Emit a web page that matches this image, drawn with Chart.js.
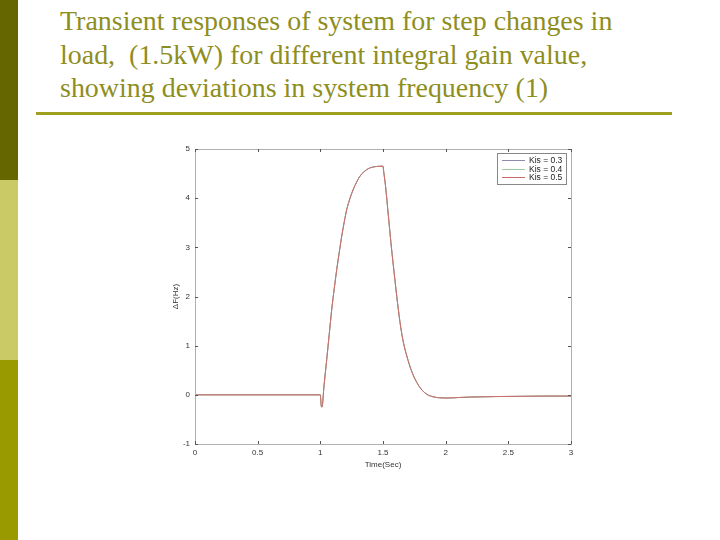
<!DOCTYPE html>
<html>
<head>
<meta charset="utf-8">
<script src="https://cdn.jsdelivr.net/npm/chart.js@4"></script>
<style>
  html, body { margin:0; padding:0; background:#ffffff; }
  #page { position:relative; width:720px; height:540px; overflow:hidden; background:#fff; }
  .bar { position:absolute; left:0; width:18px; }
  #title { position:absolute; left:60px; top:5px; width:620px; font-family:"Liberation Serif","DejaVu Serif",serif; font-size:27px; line-height:33.5px; color:#8e8e1e; transform:scaleX(1.035); transform-origin:left top; white-space:nowrap; }
  #rule { position:absolute; left:36px; top:112px; width:636px; height:3px; background:#a0a020; }
  #wrap { position:absolute; left:0; top:0; width:720px; height:540px; }
</style>
</head>
<body>
<div id="page">
  <div class="bar" style="top:0;height:180px;background:#666600;"></div>
  <div class="bar" style="top:180px;height:180px;background:#caca66;"></div>
  <div class="bar" style="top:360px;height:180px;background:#999900;"></div>
  <div id="title">Transient responses of system for step changes in<br>load,&nbsp; (1.5kW) for different integral gain value,<br>showing deviations in system frequency (1)</div>
  <div id="rule"></div>
  <div id="wrap"><canvas id="c" width="720" height="540"></canvas></div>
</div>
<script>
// ---- data ----
const timeSec = [0, 1.0, 1.006, 1.013, 1.03, 1.051, 1.071, 1.091, 1.111, 1.131, 1.151, 1.171, 1.191, 1.211, 1.237, 1.263, 1.29, 1.317, 1.35, 1.383, 1.415, 1.45, 1.5, 1.505, 1.52, 1.543, 1.563, 1.583, 1.61, 1.636, 1.66, 1.69, 1.73, 1.77, 1.81, 1.85, 1.9, 1.95, 2.0, 2.1, 2.2, 2.4, 2.6, 2.8, 3.0];
const dfKis03 = [0, 0, -0.2, -0.25, 0.2, 0.72, 1.23, 1.74, 2.16, 2.55, 2.9, 3.23, 3.52, 3.77, 4.0, 4.18, 4.33, 4.45, 4.54, 4.6, 4.63, 4.645, 4.65, 4.55, 4.25, 3.64, 3.1, 2.62, 2.0, 1.47, 1.1, 0.79, 0.47, 0.25, 0.1, 0.01, -0.04, -0.06, -0.065, -0.055, -0.045, -0.035, -0.03, -0.025, -0.025];
const dfKis04 = [0, 0, -0.2, -0.25, 0.2, 0.72, 1.23, 1.74, 2.16, 2.55, 2.9, 3.23, 3.52, 3.77, 4.0, 4.18, 4.33, 4.45, 4.54, 4.6, 4.63, 4.645, 4.65, 4.55, 4.25, 3.64, 3.1, 2.62, 2.0, 1.47, 1.1, 0.79, 0.47, 0.25, 0.1, 0.01, -0.04, -0.06, -0.065, -0.055, -0.045, -0.035, -0.03, -0.025, -0.025];
const dfKis05 = [0, 0, -0.2, -0.25, 0.2, 0.72, 1.23, 1.74, 2.16, 2.55, 2.9, 3.23, 3.52, 3.77, 4.0, 4.18, 4.33, 4.45, 4.54, 4.6, 4.63, 4.645, 4.65, 4.55, 4.25, 3.64, 3.1, 2.62, 2.0, 1.47, 1.1, 0.79, 0.47, 0.25, 0.1, 0.01, -0.04, -0.06, -0.065, -0.055, -0.045, -0.035, -0.03, -0.025, -0.025];
const seriesLabels = ['Kis = 0.3', 'Kis = 0.4', 'Kis = 0.5'];
const xTicks = [0, 0.5, 1, 1.5, 2, 2.5, 3];
const yTicks = [-1, 0, 1, 2, 3, 4, 5];
const xTitle = 'Time(Sec)';
const yTitle = '\u0394F(Hz)';

const seriesColors = ['#8c8cb0', '#9ccc9c', '#cc6a6a'];
const seriesOrder = [3, 2, 1];
const pts = arr => timeSec.map((t, i) => ({x: t, y: arr[i]}));
const FONT = '"Liberation Sans", Arial, sans-serif';

const frameTicks = {
  id: 'frameTicks',
  afterDatasetsDraw(chart) {
    const {ctx, chartArea: a, scales} = chart;
    ctx.save();
    ctx.strokeStyle = '#b0b0b0';
    ctx.lineWidth = 1;
    ctx.strokeRect(Math.round(a.left) + 0.5, Math.round(a.top) + 0.5, Math.round(a.right - a.left), Math.round(a.bottom - a.top));
    ctx.strokeStyle = '#555';
    ctx.beginPath();
    const L = 3;
    xTicks.forEach(v => {
      const px = Math.round(scales.x.getPixelForValue(v)) + 0.5;
      ctx.moveTo(px, a.bottom); ctx.lineTo(px, a.bottom - L);
      ctx.moveTo(px, a.top); ctx.lineTo(px, a.top + L);
    });
    yTicks.forEach(v => {
      const py = Math.round(scales.y.getPixelForValue(v)) + 0.5;
      ctx.moveTo(a.left, py); ctx.lineTo(a.left + L, py);
      ctx.moveTo(a.right, py); ctx.lineTo(a.right - L, py);
    });
    ctx.stroke();
    // legend box inside plot, top-right
    const bw = 69, bh = 31;
    const bx = a.right - 5 - bw, by = a.top + 4;
    ctx.fillStyle = '#fff';
    ctx.fillRect(bx, by, bw, bh);
    ctx.strokeStyle = '#888';
    ctx.strokeRect(Math.round(bx) + 0.5, Math.round(by) + 0.5, bw, bh);
    ctx.font = '8.5px ' + FONT;
    ctx.textBaseline = 'middle';
    chart.data.datasets.forEach((ds, i) => {
      const yy = Math.round(by + 7 + i * 8.5) + 0.5;
      ctx.strokeStyle = ds.borderColor;
      ctx.beginPath(); ctx.moveTo(bx + 5, yy); ctx.lineTo(bx + 28, yy); ctx.stroke();
      ctx.fillStyle = '#222';
      ctx.fillText(ds.label, bx + 32, yy);
    });
    ctx.restore();
  }
};

new Chart(document.getElementById('c'), {
  type: 'line',
  data: {
    datasets: [0, 1, 2].map(i => ({
      label: seriesLabels[i],
      data: pts([dfKis03, dfKis04, dfKis05][i]),
      borderColor: seriesColors[i],
      order: seriesOrder[i],
      borderWidth: 1, pointRadius: 0, tension: 0.4, cubicInterpolationMode: 'monotone', fill: false
    }))
  },
  options: {
    responsive: false,
    animation: false,
    devicePixelRatio: 1,
    layout: {padding: {left: 171, top: 149, right: 149, bottom: 70}},
    plugins: {legend: {display: false}, tooltip: {enabled: false}},
    scales: {
      x: {
        type: 'linear', min: 0, max: 3,
        afterBuildTicks: s => { s.ticks = xTicks.map(v => ({value: v})); },
        afterFit: s => { s.height = 26; },
        grid: {display: false, drawTicks: false, tickLength: 0},
        border: {display: false},
        ticks: {color: '#333', font: {size: 8, family: FONT}, padding: 4, maxRotation: 0,
                callback: v => String(v)},
        title: {display: true, text: xTitle, color: '#333', font: {size: 8, family: FONT}, padding: {top: 1, bottom: 0}}
      },
      y: {
        type: 'linear', min: -1, max: 5,
        afterBuildTicks: s => { s.ticks = yTicks.map(v => ({value: v})); },
        afterFit: s => { s.width = 24; },
        grid: {display: false, drawTicks: false, tickLength: 0},
        border: {display: false},
        ticks: {color: '#333', font: {size: 8, family: FONT}, padding: 5,
                callback: v => String(v)},
        title: {display: true, text: yTitle, color: '#333', font: {size: 8, family: FONT}, padding: 0}
      }
    }
  },
  plugins: [frameTicks]
});
</script>
</body>
</html>
